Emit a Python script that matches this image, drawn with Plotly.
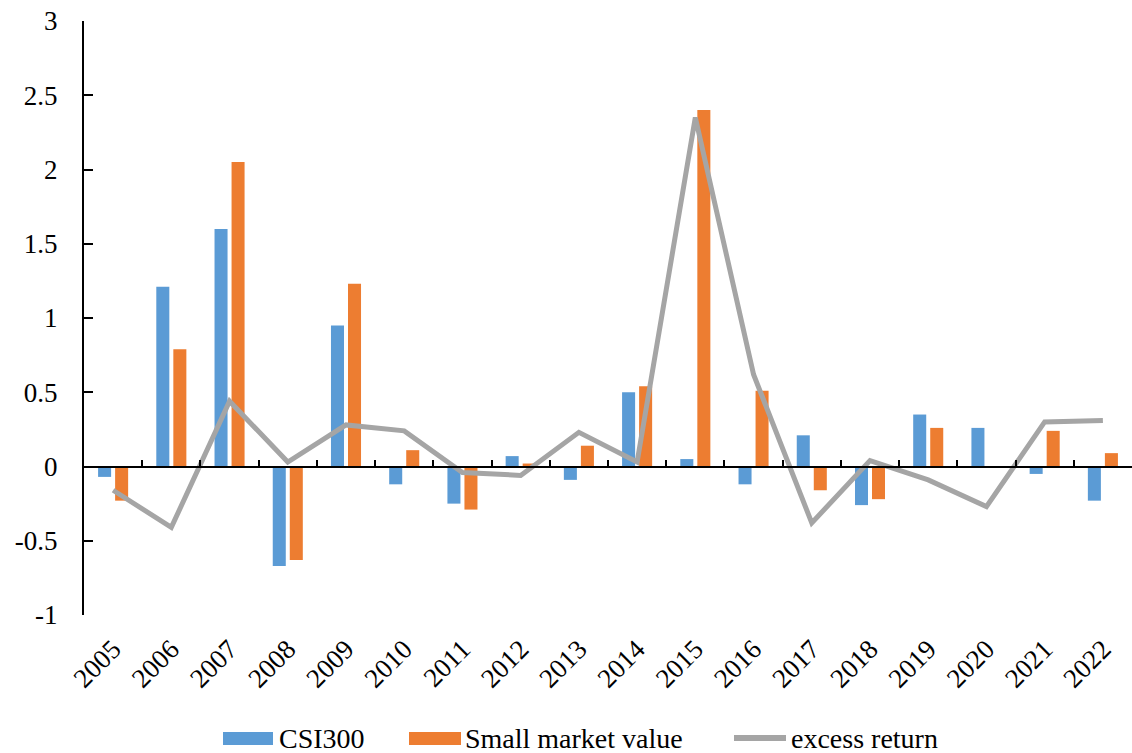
import plotly.graph_objects as go

years = [str(y) for y in range(2005, 2023)]
csi300 = [-0.07, 1.21, 1.60, -0.67, 0.95, -0.12, -0.25, 0.07, -0.09, 0.50,
          0.05, -0.12, 0.21, -0.26, 0.35, 0.26, -0.05, -0.23]
small_value = [-0.23, 0.79, 2.05, -0.63, 1.23, 0.11, -0.29, 0.02, 0.14, 0.54,
               2.40, 0.51, -0.16, -0.22, 0.26, 0.0, 0.24, 0.09]
excess_return = [-0.16, -0.41, 0.44, 0.03, 0.28, 0.24, -0.04, -0.06, 0.23, 0.03,
                 2.35, 0.62, -0.38, 0.04, -0.09, -0.27, 0.30, 0.31]
ytick_vals = [-1, -0.5, 0, 0.5, 1, 1.5, 2, 2.5, 3]
ytick_text = ["-1", "-0.5", "0", "0.5", "1", "1.5", "2", "2.5", "3"]

FONT = "Liberation Serif, Times New Roman, Times, serif"
FS = 27
LEG_FS = 28
BLUE, ORANGE, GRAY = "#5B9BD5", "#ED7D31", "#A5A5A5"

W, H = 1132, 753
ML, MR, MT, MB = 84, 0, 21, 753 - 615
PW, PH = W - ML - MR, H - MT - MB


def px(xp):
    return (xp - ML) / PW


def py(yp):
    return (H - MB - yp) / PH


fig = go.Figure()
fig.add_trace(go.Bar(x=years, y=csi300, name="CSI300",
                     marker=dict(color=BLUE, line=dict(width=0))))
fig.add_trace(go.Bar(x=years, y=small_value, name="Small market value",
                     marker=dict(color=ORANGE, line=dict(width=0))))
fig.add_trace(go.Scatter(x=years, y=excess_return, name="excess return",
                         mode="lines", xaxis="x2",
                         line=dict(color=GRAY, width=5)))

# manual legend (layout decoration), positions given in window pixels
shapes, annotations = [], []
legend_y = 738
shapes.append(dict(type="rect", xref="paper", yref="paper",
                   x0=px(223), x1=px(273), y0=py(745), y1=py(732),
                   fillcolor=BLUE, line=dict(width=0)))
shapes.append(dict(type="rect", xref="paper", yref="paper",
                   x0=px(409), x1=px(461), y0=py(745), y1=py(732),
                   fillcolor=ORANGE, line=dict(width=0)))
shapes.append(dict(type="line", xref="paper", yref="paper",
                   x0=px(734), x1=px(786), y0=py(legend_y), y1=py(legend_y),
                   line=dict(color=GRAY, width=6)))
for xs, name in [(277, "CSI300"), (463, "Small market value"),
                 (789, "excess return")]:
    annotations.append(dict(xref="paper", yref="paper", x=px(xs),
                            y=py(legend_y), xanchor="left", yanchor="middle",
                            text=name, showarrow=False,
                            font=dict(family=FONT, size=LEG_FS, color="black")))

n = len(years)
fig.update_layout(
    width=W, height=H,
    margin=dict(l=ML, r=MR, t=MT, b=MB),
    paper_bgcolor="white", plot_bgcolor="white",
    font=dict(family=FONT, size=FS, color="black"),
    barmode="group", bargap=0.415, bargroupgap=0.235,
    showlegend=False,
    shapes=shapes, annotations=annotations,
    xaxis=dict(type="category", categoryarray=years, range=[-0.5, n - 0.5],
               anchor="free", position=0.25, showline=True, linecolor="black",
               linewidth=2, ticks="inside", tickson="boundaries", ticklen=6,
               tickwidth=2, tickcolor="black", showticklabels=False,
               showgrid=False, zeroline=False, automargin=False),
    xaxis2=dict(type="category", categoryarray=years, range=[-0.5, n - 0.5],
                overlaying="x", anchor="y", side="bottom", showline=False,
                ticks="", showgrid=False, zeroline=False, tickangle=-45,
                tickfont=dict(family=FONT, size=FS), ticklabelstandoff=12,
                automargin=False),
    yaxis=dict(range=[-1, 3], tickvals=ytick_vals, ticktext=ytick_text,
               showline=True, linecolor="black", linewidth=2, ticks="inside",
               ticklen=9, tickwidth=2, tickcolor="black", showgrid=False,
               zeroline=False, ticklabelstandoff=19, automargin=False,
               ticklabeloverflow="allow",
               tickfont=dict(family=FONT, size=FS)),
)

# remove the page's default body margin so the figure fills the window
fig.write_html("out.html",
               config=dict(displayModeBar=False),
               post_script="document.body.style.margin='0';"
                           "document.body.style.overflow='hidden';")
